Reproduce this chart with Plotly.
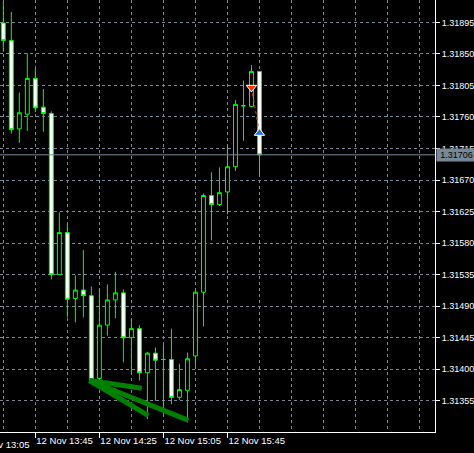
import plotly.graph_objects as go
import pandas as pd

# ---- data ----
day = "2013-11-12 "
times = [day + t for t in [
    "13:25", "13:30", "13:35", "13:40", "13:45", "13:50", "13:55", "14:00", "14:05", "14:10",
    "14:15", "14:20", "14:25", "14:30", "14:35", "14:40", "14:45", "14:50", "14:55", "15:00",
    "15:05", "15:10", "15:15", "15:20", "15:25", "15:30", "15:35", "15:40", "15:45", "15:50",
    "15:55", "16:00", "16:05"]]
opens = [1.31894, 1.31869, 1.31743, 1.31764, 1.31815, 1.31774, 1.31765, 1.31535, 1.31595, 1.31501,
         1.31513, 1.31505, 1.31387, 1.31463, 1.31499, 1.31509, 1.31445, 1.31458, 1.31395, 1.31423,
         1.31414, 1.31414, 1.31360, 1.31370, 1.31419, 1.31510, 1.31648, 1.31635, 1.31653, 1.31689,
         1.31776, 1.31775, 1.31825]
highs = [1.31924, 1.31910, 1.31795, 1.31851, 1.31829, 1.31800, 1.31768, 1.31624, 1.31607, 1.31534,
         1.31570, 1.31518, 1.31515, 1.31521, 1.31539, 1.31514, 1.31471, 1.31463, 1.31425, 1.31431,
         1.31435, 1.31458, 1.31408, 1.31424, 1.31512, 1.31651, 1.31681, 1.31688, 1.31718, 1.31784,
         1.31812, 1.31834, 1.31825]
lows = [1.31853, 1.31736, 1.31723, 1.31740, 1.31767, 1.31739, 1.31528, 1.31535, 1.31474, 1.31467,
        1.31474, 1.31384, 1.31384, 1.31448, 1.31473, 1.31410, 1.31396, 1.31384, 1.31329, 1.31355,
        1.31336, 1.31350, 1.31356, 1.31324, 1.31404, 1.31461, 1.31584, 1.31633, 1.31621, 1.31683,
        1.31726, 1.31775, 1.31677]
closes = [1.31869, 1.31742, 1.31766, 1.31815, 1.31773, 1.31765, 1.31535, 1.31595, 1.31500, 1.31513,
          1.31505, 1.31385, 1.31463, 1.31499, 1.31509, 1.31445, 1.31458, 1.31395, 1.31423, 1.31413,
          1.31414, 1.31360, 1.31371, 1.31415, 1.31510, 1.31648, 1.31635, 1.31652, 1.31689, 1.31778,
          1.31776, 1.31825, 1.31706]

tick_times = [day + t for t in ["13:45", "14:25", "15:05", "15:45"]]
tick_text = ["12 Nov 13:45", "12 Nov 14:25", "12 Nov 15:05", "12 Nov 15:45"]
cut_label_time = day + "13:05"
cut_label_text = "12 Nov 13:05"

# hand-drawn green arrow (trend-line objects)
arrow_t = [day + "14:18:45", day + "14:51:30", None,
           day + "14:18:45", day + "14:55:37", None,
           day + "14:18:45", day + "15:20:37"]
arrow_p = [1.31384, 1.31373, None, 1.31384, 1.31334, None, 1.31384, 1.31327]

# trade history: open (sell) and close markers
trade_t = [day + "16:00", day + "16:05"]
trade_p = [1.31802, 1.31737]

x_range = [day + "13:22:56.25", day + "17:54:37.5"]
y_range = [1.313105, 1.319269]

# ---- styles ----
GRID = "#778899"
FAMILY = "Liberation Sans, Arial, sans-serif"
FONT = dict(family=FAMILY, size=9, color="white")
XFONT = dict(family=FAMILY, size=9.5, color="white")

fig = go.Figure()
fig.add_trace(go.Candlestick(
    x=times, open=opens, high=highs, low=lows, close=closes,
    increasing=dict(line=dict(color="#00FF00", width=1), fillcolor="black"),
    decreasing=dict(line=dict(color="#00FF00", width=1), fillcolor="white"),
    whiskerwidth=0, showlegend=False, hoverinfo="skip"))

fig.add_trace(go.Scatter(
    x=arrow_t, y=arrow_p, mode="lines",
    line=dict(color="#008000", width=5), showlegend=False, hoverinfo="skip"))

fig.add_trace(go.Scatter(
    x=trade_t, y=trade_p, mode="lines",
    line=dict(color="#FF3300", width=1, dash="dot"), showlegend=False, hoverinfo="skip"))
fig.add_trace(go.Scatter(
    x=trade_t[:1], y=trade_p[:1], mode="markers",
    marker=dict(symbol="triangle-down", size=9, color="#FF3300", line=dict(color="white", width=1)),
    showlegend=False, hoverinfo="skip"))
fig.add_trace(go.Scatter(
    x=trade_t[1:], y=trade_p[1:], mode="markers",
    marker=dict(symbol="triangle-up", size=9, color="#1E78D0", line=dict(color="white", width=1)),
    showlegend=False, hoverinfo="skip"))

last_price = closes[-1]
fig.add_shape(type="line", xref="paper", x0=0, x1=1, yref="y", y0=last_price, y1=last_price,
              line=dict(color=GRID, width=1), layer="above")
fig.add_annotation(xref="paper", x=1, y=last_price, yref="y", text=f"{last_price:.5f}",
                   showarrow=False, xanchor="left", yanchor="middle", xshift=1,
                   bgcolor=GRID, font=dict(family=FAMILY, size=9, color="black"),
                   borderpad=1, width=37)

# partially visible label left of the plot
t0 = pd.Timestamp(x_range[0]); t1 = pd.Timestamp(x_range[1])
frac = (pd.Timestamp(cut_label_time) - t0) / (t1 - t0)
fig.add_annotation(xref="paper", yref="paper", x=frac, y=0, yshift=-5, text=cut_label_text,
                   showarrow=False, xanchor="left", yanchor="top", font=XFONT)

fig.update_layout(
    width=474, height=453,
    margin=dict(l=0, r=39, t=0, b=21, autoexpand=False),
    paper_bgcolor="black", plot_bgcolor="black",
    font=FONT, showlegend=False,
    xaxis=dict(
        type="date", range=x_range, rangeslider=dict(visible=False), automargin=False,
        tickvals=tick_times, ticktext=tick_text, tickangle=0, tickfont=XFONT,
        ticks="outside", ticklen=5, tickcolor="white", tickwidth=1,
        ticklabelposition="outside right",
        showgrid=True, gridcolor=GRID, griddash="3px,3px", gridwidth=1,
        minor=dict(tick0=day + "13:25", dtick=20 * 60 * 1000, showgrid=True,
                   gridcolor=GRID, griddash="3px,3px", gridwidth=1, ticks=""),
        showline=True, linecolor="white", linewidth=1,
        zeroline=False, fixedrange=True),
    yaxis=dict(
        side="right", range=y_range, tick0=1.31355, dtick=0.00045, tickformat=".5f",
        automargin=False, tickfont=FONT,
        ticks="outside", ticklen=4, tickcolor="white", tickwidth=1,
        showgrid=True, gridcolor=GRID, griddash="3px,3px", gridwidth=1,
        showline=True, linecolor="white", linewidth=1,
        zeroline=False, fixedrange=True),
)

fig.write_html("out.html", config={"displayModeBar": False},
               post_script="document.body.style.margin='0';document.body.style.background='black';")
